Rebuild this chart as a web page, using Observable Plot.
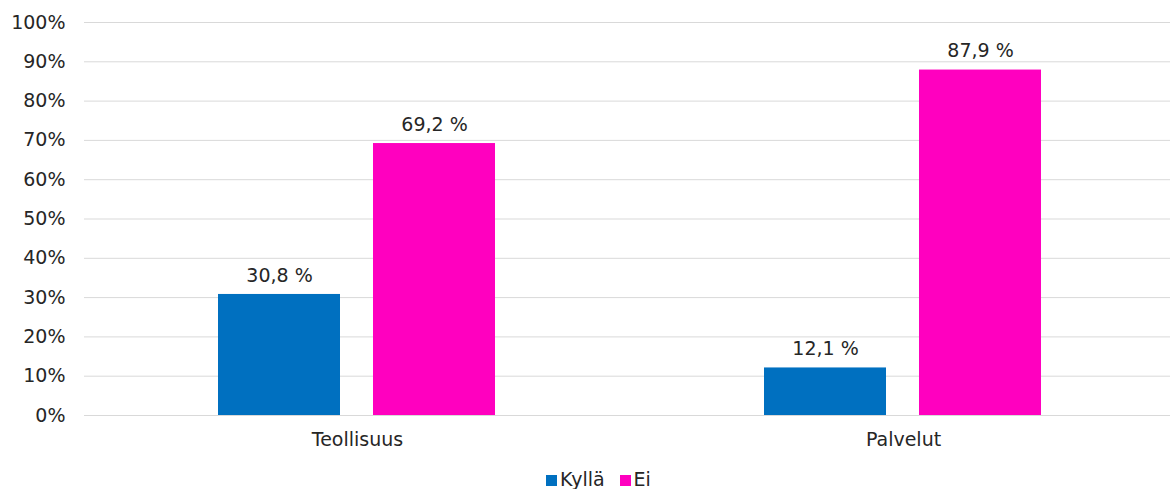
<!DOCTYPE html>
<html><head><meta charset="utf-8">
<script src="https://cdn.jsdelivr.net/npm/d3@7"></script>
<script src="https://cdn.jsdelivr.net/npm/@observablehq/plot@0.6"></script>
<style>
body{margin:0;background:#fff;font-family:"DejaVu Sans",Verdana,sans-serif;color:#262626;}
#chart svg{display:block;}
#legend{display:flex;justify-content:center;align-items:flex-end;height:29px;padding-left:42px;font-size:19px;line-height:19px;}
.item{display:flex;align-items:flex-end;margin-right:15px;}
.sw{width:11px;height:11px;margin-right:3px;margin-bottom:3px;}
</style></head><body><div id="chart"></div><div id="legend"></div>
<script>
const categories = ["Teollisuus", "Palvelut"];
const seriesNames = ["Kyllä", "Ei"];
const kylla = [30.8, 12.1];
const ei = [69.2, 87.9];
const colors = ["#0070C0", "#FF00BF"];
const yTicks = [0, 10, 20, 30, 40, 50, 60, 70, 80, 90, 100];

const data = categories.flatMap((c, i) => [
  {category: c, series: seriesNames[0], value: kylla[i]},
  {category: c, series: seriesNames[1], value: ei[i]}
]);
const fmt = v => v.toFixed(1).replace(".", ",") + " %";

const plot = Plot.plot({
  width: 1170, height: 460,
  marginTop: 22, marginBottom: 45, marginLeft: 83, marginRight: 0,
  style: {fontFamily: "DejaVu Sans, Verdana, sans-serif", fontSize: "19px", color: "#262626", background: "white", overflow: "hidden"},
  facet: {data, x: "category"},
  fx: {domain: categories, range: [83, 1176], paddingInner: 0, paddingOuter: 0, axis: "bottom", tickSize: 0, tickPadding: 17, label: null},
  x: {domain: seriesNames, axis: null, paddingInner: 0.2115, paddingOuter: 0.857},
  y: {domain: [0, 100], ticks: 10, tickFormat: d => d + "%", tickSize: 0, tickPadding: 19, label: null},
  color: {domain: seriesNames, range: colors},
  marks: [
    Plot.ruleY(yTicks, {stroke: "#d9d9d9", strokeWidth: 1}),
    Plot.barY(data, {x: "series", y: "value", fill: "series"}),
    Plot.text(data, {x: "series", y: "value", text: d => fmt(d.value), dy: -19, fill: "#262626", fontSize: 19})
  ]
});
document.getElementById("chart").appendChild(plot);

const legend = document.getElementById("legend");
seriesNames.forEach((s, i) => {
  const it = document.createElement("div");
  it.className = "item";
  const sw = document.createElement("div");
  sw.className = "sw";
  sw.style.background = colors[i];
  const t = document.createElement("span");
  t.textContent = s;
  it.appendChild(sw); it.appendChild(t);
  legend.appendChild(it);
});
</script></body></html>
